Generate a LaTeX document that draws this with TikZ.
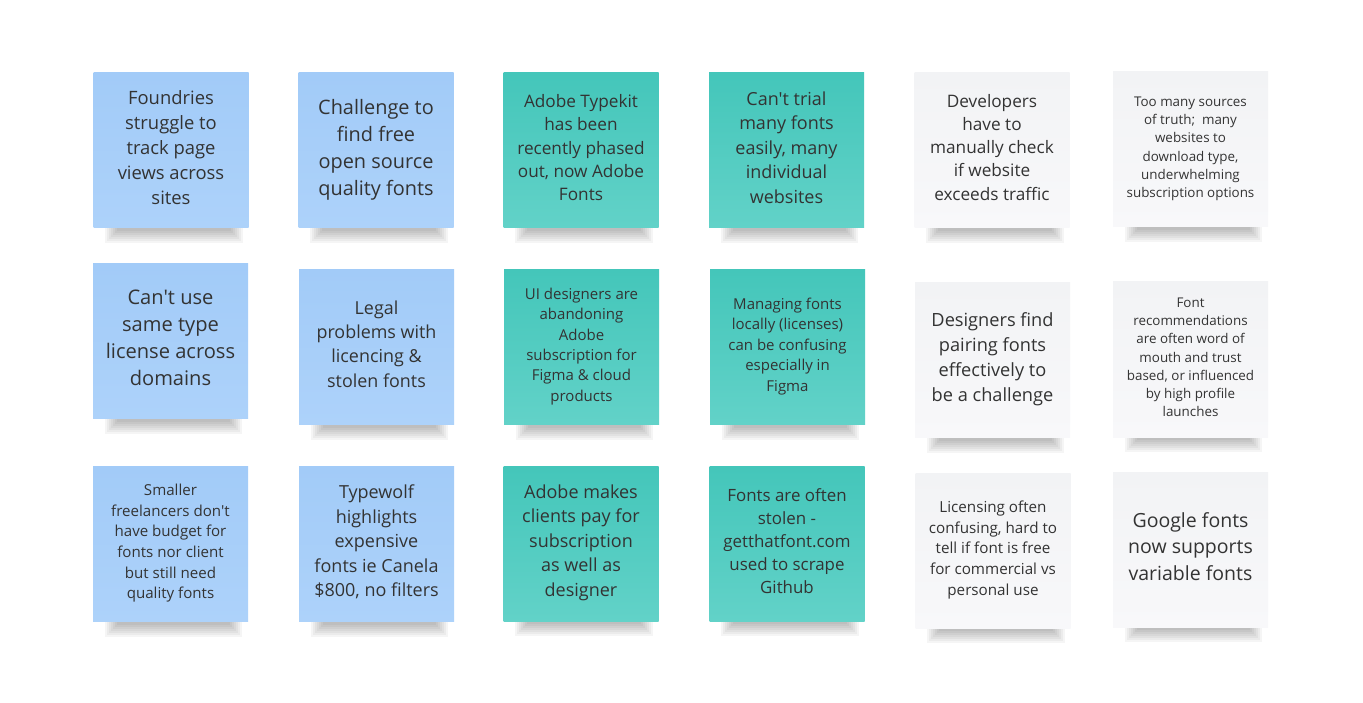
\documentclass[tikz,border=0pt]{standalone}
\usepackage{fontspec}
\setmainfont{Open Sans}[Ligatures=TeXOff]
\usepackage{xcolor}
\usetikzlibrary{backgrounds}

\definecolor{bluetop}{HTML}{A2CBF8}
\definecolor{bluebot}{HTML}{ADD2FA}
\definecolor{tealtop}{HTML}{44C6BA}
\definecolor{tealbot}{HTML}{62D2C8}
\definecolor{greytop}{HTML}{F2F3F5}
\definecolor{greybot}{HTML}{F8F8FA}
\definecolor{inktext}{HTML}{333333}

\begin{document}
\begin{tikzpicture}[
    x=1pt, y=-1pt,
    sticky/.style={align=center, minimum width=155pt, minimum height=155pt, inner sep=4pt, text=inktext,
      execute at end node={\rule[-0.33em]{0pt}{0pt}}},
    bluenote/.style={sticky, top color=bluetop, bottom color=bluebot},
    tealnote/.style={sticky, top color=tealtop, bottom color=tealbot},
    greynote/.style={sticky, top color=greytop, bottom color=greybot},
    txt/.style 2 args={font=\fontsize{#1}{#2}\selectfont}
]
\useasboundingbox (0,0) rectangle (1363,703);

% row 1
\node[bluenote, txt={18.4}{25}] (found) at (171,150.5) {Foundries\\struggle to\\track page\\views across\\sites};
\node[bluenote, txt={19.9}{27}] (free) at (376,150.5) {Challenge to\\find free\\open source\\quality fonts};
\node[tealnote, txt={17.2}{23.3}] (typekit) at (581,150.5) {Adobe Typekit\\has been\\recently phased\\out, now Adobe\\Fonts};
\node[tealnote, txt={18}{24.5}] (trial) at (786.5,150.5) {Can't trial\\many fonts\\easily, many\\individual\\websites};
\node[greynote, txt={17.2}{23.3}] (devs) at (992,150) {Developers\\have to\\manually check\\if website\\exceeds traffic};
\node[greynote, txt={13.4}{18.2}] (truth) at (1190.5,149.5) {Too many sources\\of truth;\ \ many\\websites to\\download type,\\underwhelming\\subscription options};

% row 2
\node[bluenote, txt={20.1}{27.3}] (domains) at (170.5,341) {Can't use\\same type\\license across\\domains};
\node[bluenote, txt={17.9}{24.3}] (legal) at (376.5,347) {Legal\\problems with\\licencing \&\\stolen fonts};
\node[tealnote, txt={15}{20.4}] (uidesign) at (581.5,347) {UI designers are\\abandoning\\Adobe\\subscription for\\Figma \& cloud\\products};
\node[tealnote, txt={15}{20.5}] (locally) at (787.5,347) {Managing fonts\\locally (licenses)\\can be confusing\\especially in\\Figma};
\node[greynote, txt={18.2}{24.7}] (pairing) at (992.5,360) {Designers find\\pairing fonts\\effectively to\\be a challenge};
\node[greynote, txt={13.4}{18.2}] (mouth) at (1190.5,359.5) {Font\\recommendations\\are often word of\\mouth and trust\\based, or influenced\\by high profile\\launches};

% row 3
\node[bluenote, txt={15.1}{20.6}] (budget) at (170.5,544) {Smaller\\freelancers don't\\have budget for\\fonts nor client\\but still need\\quality fonts};
\node[bluenote, txt={18}{24.5}] (typewolf) at (376.5,544) {Typewolf\\highlights\\expensive\\fonts ie Canela\\\$800, no filters};
\node[tealnote, txt={18}{24.5}] (clients) at (581,543.5) {Adobe makes\\clients pay for\\subscription\\as well as\\designer};
\node[tealnote, txt={16.9}{23}] (stolen) at (787,543.5) {Fonts are often\\stolen -\\getthatfont.com\\used to scrape\\Github};
\node[greynote, txt={15.2}{20.7}] (licensing) at (993,550.5) {Licensing often\\confusing, hard to\\tell if font is free\\for commercial vs\\personal use};
\node[greynote, txt={19.5}{26.5}] (google) at (1190.5,549.5) {Google fonts\\now supports\\variable fonts};

% soft shadows under the notes
\begin{scope}[on background layer]
  \fill[white] (0,0) rectangle (1363,703);
  \foreach \n in {found,free,typekit,trial,devs,truth,domains,legal,uidesign,locally,pairing,mouth,budget,typewolf,clients,stolen,licensing,google}
    \foreach \k in {0,...,6}
      \fill[black, opacity=0.04]
        ([xshift=12pt+2*\k pt, yshift=2pt]\n.south west) rectangle ([xshift=-6pt-2*\k pt, yshift=-15pt+2*\k pt]\n.south east);
\end{scope}
\end{tikzpicture}
\end{document}
